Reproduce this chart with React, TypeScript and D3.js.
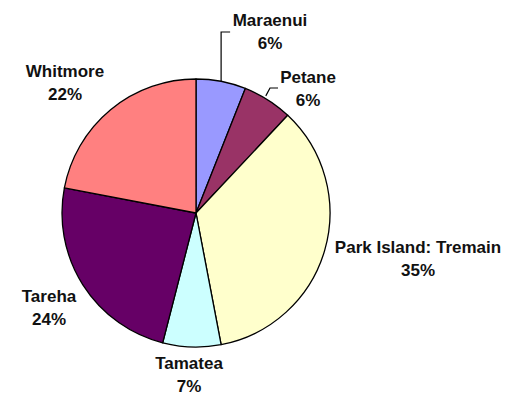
import React from "react";
import * as d3 from "d3";

const categories = ["Maraenui", "Petane", "Park Island: Tremain", "Tamatea", "Tareha", "Whitmore"];
const values = [6, 6, 35, 7, 24, 22];
const colors = ["#9999FF", "#993366", "#FFFFCC", "#CCFFFF", "#660066", "#FF8080"];

// label layout: [centerX, firstBaselineY]
const labelPos: [number, number][] = [
  [270, 26],
  [308, 83],
  [418, 253],
  [189, 369],
  [49, 302],
  [65, 77],
];

export default function App() {
  const W = 513, H = 397;
  const cx = 196, cy = 213, r = 134;
  const total = d3.sum(values);
  const pie = d3.pie<number>().sort(null).value((d) => d)(values);
  const arc = d3.arc<d3.PieArcDatum<number>>().innerRadius(0).outerRadius(r);

  const edgePoint = (a: d3.PieArcDatum<number>) => {
    const m = (a.startAngle + a.endAngle) / 2;
    return [cx + r * Math.sin(m), cy - r * Math.cos(m)];
  };

  const leaders: Record<number, (p: number[]) => string> = {
    0: (p) => `M${p[0] + 9},32 L${p[0]},32 L${p[0]},${p[1]}`,
    1: (p) => `M278,88 L270,88 L${p[0] - 2},${p[1] - 4}`,
  };

  return (
    <svg width={W} height={H} style={{ position: "absolute", left: 0, top: 0, background: "#fff" }}>
      <rect width={W} height={H} fill="#fff" />
      <g transform={`translate(${cx},${cy})`}>
        {pie.map((d, i) => (
          <path key={i} d={arc(d) || ""} fill={colors[i]} stroke="#000" strokeWidth={1.3} strokeLinejoin="round" />
        ))}
      </g>
      {pie.map((d, i) =>
        leaders[i] ? (
          <path key={"l" + i} d={leaders[i](edgePoint(d))} fill="none" stroke="#000" strokeWidth={1.2} />
        ) : null
      )}
      {categories.map((c, i) => (
        <text
          key={"t" + i}
          x={labelPos[i][0]}
          y={labelPos[i][1]}
          textAnchor="middle"
          fontFamily="'Liberation Sans', Arial, sans-serif"
          fontWeight="bold"
          fontSize={17}
          fill="#111"
        >
          <tspan x={labelPos[i][0]}>{c}</tspan>
          <tspan x={labelPos[i][0]} dy={22.5}>
            {Math.round((values[i] / total) * 100)}%
          </tspan>
        </text>
      ))}
    </svg>
  );
}
